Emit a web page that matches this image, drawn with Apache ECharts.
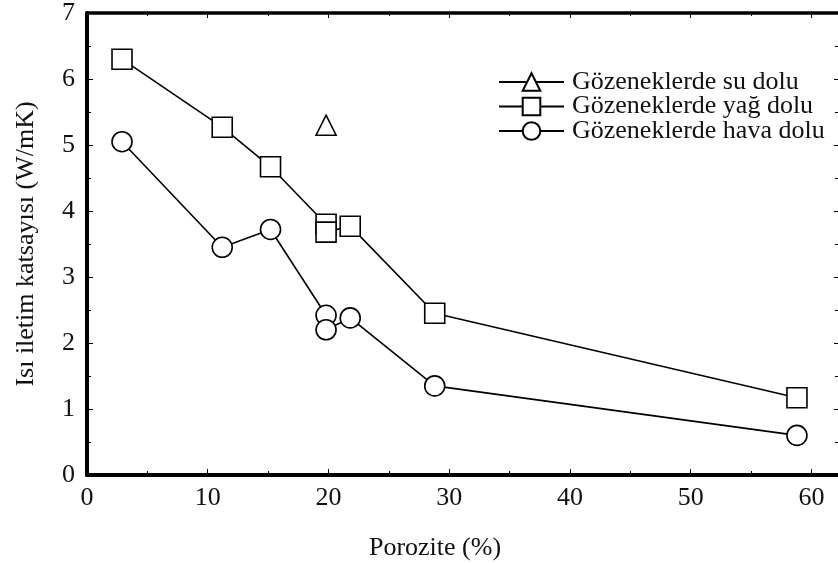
<!DOCTYPE html>
<html>
<head>
<meta charset="utf-8">
<script src="https://cdn.jsdelivr.net/npm/echarts@6/dist/echarts.min.js"></script>
<style>html,body{margin:0;padding:0;background:#fff}#c{width:838px;height:563px}</style>
</head>
<body>
<div id="c"></div>
<script>
const xTicks = [0, 10, 20, 30, 40, 50, 60];
const yTicks = [0, 1, 2, 3, 4, 5, 6, 7];
const suX = [19.8];
const suY = [5.3];
const yagX = [2.9, 11.2, 15.2, 19.8, 19.8, 21.8, 28.8, 58.8];
const yagY = [6.3, 5.27, 4.67, 3.8, 3.68, 3.77, 2.45, 1.17];
const havaX = [2.9, 11.2, 15.2, 19.8, 19.8, 21.8, 28.8, 58.8];
const havaY = [5.05, 3.45, 3.72, 2.42, 2.2, 2.38, 1.35, 0.6];
const names = ['Gözeneklerde su dolu', 'Gözeneklerde yağ dolu', 'Gözeneklerde hava dolu'];

const font = 'Liberation Serif';
const fs = 26;
const pair = (xs, ys) => xs.map((x, i) => [x, ys[i]]);

const chart = echarts.init(document.getElementById('c'), null, {renderer: 'canvas'});
const baseSeries = (name, data, symbol) => ({
  name, type: 'line', data, symbol, symbolSize: 20,
  showAllSymbol: true,
  lineStyle: {color: '#000', width: 1.6},
  itemStyle: {color: '#fff', borderColor: '#000', borderWidth: 1.6},
  emphasis: {disabled: true},
  animation: false, z: 3
});
chart.setOption({
  animation: false,
  backgroundColor: '#fff',
  title: {
    text: 'Porozite (%)', left: 430, top: 530, textAlign: 'center',
    textStyle: {fontFamily: font, fontSize: fs, fontWeight: 'normal', color: '#111'}
  },
  grid: {left: 87, right: 0, top: 13, bottom: 88, containLabel: false},
  legend: {
    left: 493, top: 64, orient: 'vertical', itemWidth: 65, itemHeight: 22, itemGap: -1.5,
    data: names,
    textStyle: {fontFamily: font, fontSize: fs, color: '#111', lineHeight: 22, padding: [0, 0, 0, 3]},
    selectedMode: false
  },
  xAxis: [{
    type: 'value', min: 0, max: 62.2, interval: 10,
    axisLine: {show: true, onZero: false, lineStyle: {color: '#000', width: 4}},
    axisTick: {show: true, inside: true, length: 6, lineStyle: {color: '#000', width: 1}, customValues: xTicks},
    minorTick: {show: true, splitNumber: 2, length: 4, lineStyle: {color: '#000'}},
    axisLabel: {fontFamily: font, fontSize: fs, color: '#111', margin: 10, customValues: xTicks},
    splitLine: {show: false}
  }, {
    type: 'value', position: 'top', min: 0, max: 62.2, interval: 10,
    axisLine: {show: true, onZero: false, lineStyle: {color: '#000', width: 3.5}},
    axisTick: {show: true, inside: true, length: 5, lineStyle: {color: '#000', width: 1}, customValues: xTicks},
    minorTick: {show: true, splitNumber: 2, length: 3, lineStyle: {color: '#000'}},
    axisLabel: {show: false}, splitLine: {show: false}
  }],
  yAxis: [{
    type: 'value', min: 0, max: 7, interval: 1,
    name: 'Isı iletim katsayısı (W/mK)', nameLocation: 'middle', nameGap: 48, nameRotate: 90,
    nameTextStyle: {fontFamily: font, fontSize: fs, color: '#111'},
    axisLine: {show: true, onZero: false, lineStyle: {color: '#000', width: 4}},
    axisTick: {show: true, inside: true, length: 6, lineStyle: {color: '#000', width: 1}},
    minorTick: {show: true, splitNumber: 2, length: 4, lineStyle: {color: '#000'}},
    axisLabel: {fontFamily: font, fontSize: fs, color: '#111', margin: 12},
    splitLine: {show: false}
  }, {
    type: 'value', position: 'right', min: 0, max: 7, interval: 1,
    axisLine: {show: false, onZero: false},
    axisTick: {show: true, inside: true, length: 4, lineStyle: {color: '#000', width: 1}},
    minorTick: {show: true, splitNumber: 2, length: 3, lineStyle: {color: '#000'}},
    axisLabel: {show: false}, splitLine: {show: false}
  }],
  series: [
    baseSeries(names[0], pair(suX, suY), 'triangle'),
    baseSeries(names[1], pair(yagX, yagY), 'rect'),
    baseSeries(names[2], pair(havaX, havaY), 'circle')
  ]
});
</script>
</body>
</html>
